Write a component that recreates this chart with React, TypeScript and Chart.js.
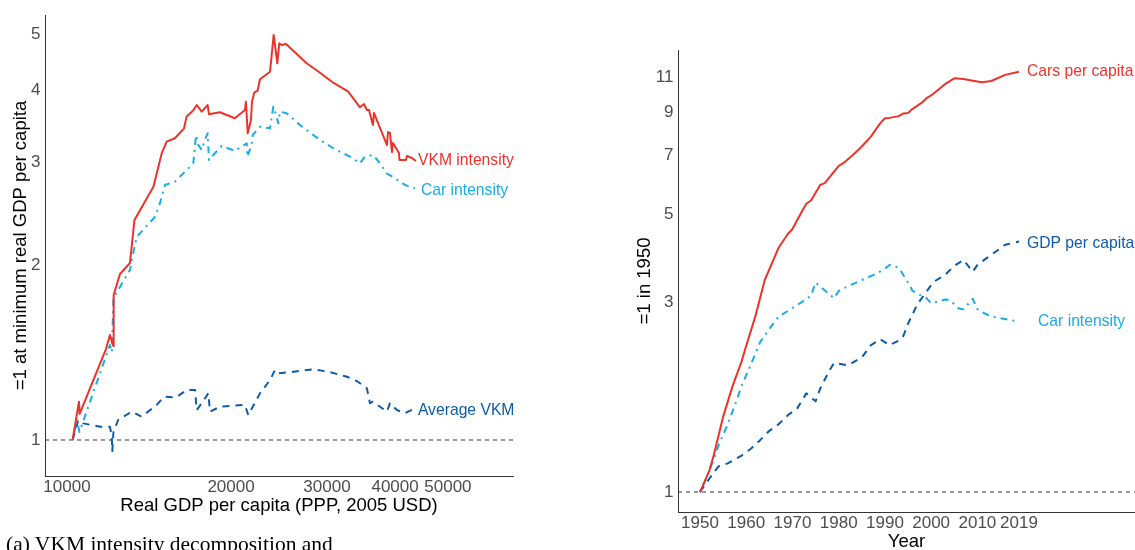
import React, { useEffect, useRef } from 'react';
import { Chart, registerables } from 'chart.js';

Chart.register(...registerables);

// ---------- Panel (a): indices against real GDP per capita ----------
const vkmGdp = [10240, 10520, 10550, 11790, 11990, 12160, 12180, 12510, 13050, 13300, 14410, 14920, 15240, 15780, 16400, 16580, 17050, 17300, 17670, 18120, 18220, 19090, 20330, 21210, 21300, 21460, 21760, 21850, 22060, 22380, 22600, 23580, 23950, 24320, 24520, 24770, 25230, 27530, 29120, 30800, 32820, 34480, 35070, 35510, 35820, 36430, 36580, 38650, 38820, 39150, 39480, 39640, 40660, 40750, 41880, 42060, 42950, 43690];
const vkmIntensity = [1.0, 1.164, 1.109, 1.434, 1.516, 1.451, 1.777, 1.931, 2.017, 2.392, 2.729, 3.114, 3.263, 3.307, 3.439, 3.603, 3.69, 3.772, 3.674, 3.772, 3.636, 3.665, 3.579, 3.698, 3.822, 3.373, 3.555, 3.822, 3.961, 3.993, 4.177, 4.304, 4.979, 4.45, 4.818, 4.785, 4.804, 4.45, 4.287, 4.121, 3.977, 3.738, 3.787, 3.698, 3.698, 3.484, 3.655, 3.219, 3.389, 3.376, 3.13, 3.245, 3.118, 3.033, 3.033, 3.082, 3.058, 3.021];

const carIntGdp = [10240, 10430, 10540, 11990, 12090, 12170, 12510, 13050, 13230, 13430, 13800, 14510, 14810, 15130, 15780, 16580, 17050, 17250, 17420, 17670, 17860, 18120, 18220, 18550, 19230, 20330, 21370, 21420, 21820, 21910, 22600, 23580, 23910, 24250, 24420, 24590, 25300, 26760, 29120, 30800, 33050, 34480, 35220, 36470, 37530, 38600, 39980, 41700, 43500];
const carIntensityByGdp = [1.0, 1.082, 1.032, 1.457, 1.417, 1.756, 1.834, 1.962, 2.097, 2.238, 2.299, 2.423, 2.556, 2.748, 2.784, 2.915, 2.994, 3.349, 3.219, 3.156, 3.263, 3.373, 3.033, 3.094, 3.207, 3.144, 3.241, 3.074, 3.219, 3.349, 3.461, 3.439, 3.747, 3.603, 3.509, 3.674, 3.651, 3.484, 3.284, 3.178, 3.074, 2.994, 3.074, 3.094, 2.994, 2.877, 2.821, 2.748, 2.712];

const avgVkmGdp = [10240, 10490, 10710, 11500, 11990, 12080, 12110, 12170, 12410, 13150, 13710, 14610, 15070, 15850, 16580, 17180, 17300, 17670, 18170, 18300, 19090, 20190, 21210, 21510, 22600, 23580, 24080, 24420, 25660, 26760, 28280, 30130, 32640, 34190, 35510, 35970, 36430, 37530, 38650, 39150, 40320, 41700, 43500];
const averageVkm = [1.0, 1.082, 1.068, 1.054, 1.054, 1.016, 0.957, 1.032, 1.082, 1.119, 1.097, 1.149, 1.187, 1.184, 1.219, 1.219, 1.126, 1.157, 1.203, 1.119, 1.141, 1.146, 1.149, 1.104, 1.203, 1.268, 1.32, 1.303, 1.308, 1.315, 1.323, 1.311, 1.285, 1.26, 1.227, 1.157, 1.164, 1.141, 1.119, 1.157, 1.126, 1.112, 1.134];

const gdpTicks = [10000, 20000, 30000, 40000, 50000];
const ratioTicksA = [1, 2, 3, 4, 5];

// ---------- Panel (b): indices over time, 1950 = 1 ----------
const carsYears = [1950, 1952, 1953, 1955, 1957, 1959, 1960, 1962, 1964, 1966, 1967, 1969, 1970, 1972, 1973, 1974, 1976, 1977, 1980, 1981, 1983, 1985, 1987, 1989, 1990, 1991, 1993, 1994, 1995, 1996, 1998, 1999, 2000, 2002, 2003, 2005, 2007, 2009, 2011, 2013, 2016, 2019];
const carsPerCapita = [1.0, 1.13, 1.24, 1.545, 1.84, 2.13, 2.33, 2.77, 3.41, 3.86, 4.11, 4.45, 4.58, 5.06, 5.3, 5.4, 5.91, 5.97, 6.6, 6.7, 7.02, 7.38, 7.83, 8.45, 8.69, 8.71, 8.8, 8.94, 8.96, 9.18, 9.51, 9.76, 9.92, 10.36, 10.59, 10.95, 10.91, 10.8, 10.7, 10.78, 11.17, 11.38];

const gdpYears = [1950, 1952, 1954, 1956, 1959, 1961, 1963, 1965, 1967, 1969, 1971, 1973, 1975, 1976, 1978, 1979, 1982, 1985, 1987, 1989, 1991, 1993, 1994, 1995, 1997, 1999, 2000, 2001, 2003, 2005, 2007, 2009, 2010, 2012, 2014, 2016, 2019];
const gdpPerCapita = [1.0, 1.08, 1.16, 1.18, 1.235, 1.285, 1.35, 1.425, 1.48, 1.56, 1.62, 1.77, 1.69, 1.82, 2.02, 2.11, 2.08, 2.18, 2.34, 2.42, 2.34, 2.4, 2.47, 2.65, 2.96, 3.19, 3.31, 3.4, 3.51, 3.7, 3.83, 3.58, 3.72, 3.87, 4.02, 4.18, 4.26];

const carIntYears = [1950, 1951, 1953, 1954, 1956, 1958, 1959, 1961, 1963, 1965, 1967, 1969, 1972, 1974, 1975, 1979, 1980, 1982, 1986, 1988, 1990, 1991, 1993, 1995, 1996, 1998, 1999, 2000, 2003, 2004, 2006, 2007, 2009, 2010, 2011, 2013, 2016, 2019];
const carIntensityByYear = [1.0, 1.06, 1.21, 1.31, 1.48, 1.71, 1.85, 2.09, 2.38, 2.57, 2.76, 2.85, 3.0, 3.11, 3.36, 3.07, 3.2, 3.29, 3.45, 3.53, 3.64, 3.72, 3.66, 3.36, 3.2, 3.11, 3.07, 2.98, 3.045, 3.04, 2.89, 2.88, 3.06, 2.88, 2.83, 2.76, 2.72, 2.68];

const yearTicks = [1950, 1960, 1970, 1980, 1990, 2000, 2010, 2019];
const ratioTicksB = [1, 3, 5, 7, 9, 11];

// Axis ranges
const GDP_MIN = 9113;
const GDP_MAX = 65830;
const RATIO_A_MIN = 0.867;
const RATIO_A_MAX = 5.389;
const YEAR_MIN = 1945.24;
const YEAR_MAX = 2044.09;
const RATIO_B_MIN = 0.8909;
const RATIO_B_MAX = 12.9;

// Styles
const RED = '#EA3329';
const CYAN = '#19ACE6';
const NAVY = '#0D5BA8';
const FONT = '"Liberation Sans", Arial, sans-serif';
const TICK_FONT = { family: FONT, size: 17 };
const TITLE_FONT = { family: FONT, size: 18.5 };
const LABEL_SIZE = 15.7;

const pairs = (xs: number[], ys: number[]) => xs.map((x, i) => ({ x, y: ys[i] }));

type EndLabel = { dataset: number; text: string; color: string; dx: number; dy: number };

// Writes each series name just past the series' last point
function endLabels(labels: EndLabel[]) {
  return {
    id: 'endLabels',
    afterDatasetsDraw(chart: any) {
      const ctx = chart.ctx;
      ctx.save();
      ctx.font = `${LABEL_SIZE}px ${FONT}`;
      ctx.textAlign = 'left';
      ctx.textBaseline = 'middle';
      for (const l of labels) {
        const pts = chart.getDatasetMeta(l.dataset).data;
        const p = pts[pts.length - 1];
        ctx.fillStyle = l.color;
        ctx.fillText(l.text, p.x + l.dx, p.y + l.dy);
      }
      ctx.restore();
    },
  };
}

const border = { display: true, color: '#333333', width: 1 };

function xAxis(type: string, min: number, max: number, ticks: number[], height: number, title: string, titlePad: number) {
  return {
    type,
    min,
    max,
    bounds: 'data',
    afterBuildTicks: (s: any) => {
      s.ticks = ticks.map((value) => ({ value }));
    },
    afterFit: (s: any) => {
      s.height = height;
    },
    grid: { display: false, drawTicks: false },
    border,
    ticks: {
      autoSkip: false,
      maxRotation: 0,
      minRotation: 0,
      padding: 1.5,
      color: '#4D4D4D',
      font: TICK_FONT,
      callback: (v: number) => String(v),
    },
    title: { display: true, text: title, color: '#000000', font: TITLE_FONT, padding: { top: 0, bottom: titlePad } },
  };
}

function yAxis(min: number, max: number, ticks: number[], width: number, title: string, titlePad: number) {
  return {
    type: 'logarithmic',
    min,
    max,
    bounds: 'data',
    afterBuildTicks: (s: any) => {
      s.ticks = ticks.map((value) => ({ value }));
    },
    afterFit: (s: any) => {
      s.width = width;
    },
    grid: { display: false, drawTicks: false },
    border,
    ticks: {
      autoSkip: false,
      padding: 4.5,
      color: '#4D4D4D',
      font: TICK_FONT,
      callback: (v: number) => String(v),
    },
    title: { display: true, text: title, color: '#000000', font: TITLE_FONT, padding: { top: titlePad, bottom: 0 } },
  };
}

const solid = (data: any[], color: string) => ({ data, borderColor: color, borderWidth: 2 });
const dashed = (data: any[], color: string, dash: number[]) => ({ data, borderColor: color, borderWidth: 2, borderDash: dash });
const baseline = (x0: number, x1: number) => ({
  data: [{ x: x0, y: 1 }, { x: x1, y: 1 }],
  borderColor: '#333333',
  borderWidth: 1,
  borderDash: [4, 4],
});

const DOTDASH = [2, 5, 7, 5];
const DASH = [7, 6];

const common = {
  responsive: false,
  maintainAspectRatio: false,
  animation: false,
  elements: {
    point: { radius: 0, hoverRadius: 0 },
    line: { tension: 0, fill: false, borderJoinStyle: 'round' },
  },
  plugins: { legend: { display: false }, tooltip: { enabled: false } },
  events: [],
};

export default function App() {
  const refA = useRef<HTMLCanvasElement>(null);
  const refB = useRef<HTMLCanvasElement>(null);

  useEffect(() => {
    const chartA = new Chart(refA.current as HTMLCanvasElement, {
      type: 'line',
      data: {
        datasets: [
          solid(pairs(vkmGdp, vkmIntensity), RED),
          dashed(pairs(carIntGdp, carIntensityByGdp), CYAN, DOTDASH),
          dashed(pairs(avgVkmGdp, averageVkm), NAVY, DASH),
          baseline(GDP_MIN, GDP_MAX),
        ],
      },
      options: {
        ...common,
        layout: { padding: { top: 15, right: 27, left: 0, bottom: 0 } },
        scales: {
          x: xAxis('logarithmic', GDP_MIN, GDP_MAX, gdpTicks, 94, 'Real GDP per capita (PPP, 2005 USD)', 52.9),
          y: yAxis(RATIO_A_MIN, RATIO_A_MAX, ratioTicksA, 45, '=1 at minimum real GDP per capita', 9.8),
        },
      } as any,
      plugins: [
        endLabels([
          { dataset: 0, text: 'VKM intensity', color: RED, dx: 2, dy: 0 },
          { dataset: 1, text: 'Car intensity', color: CYAN, dx: 6, dy: 2 },
          { dataset: 2, text: 'Average VKM', color: NAVY, dx: 3, dy: 2 },
        ]),
      ],
    } as any);

    const chartB = new Chart(refB.current as HTMLCanvasElement, {
      type: 'line',
      data: {
        datasets: [
          solid(pairs(carsYears, carsPerCapita), RED),
          dashed(pairs(gdpYears, gdpPerCapita), NAVY, DASH),
          dashed(pairs(carIntYears, carIntensityByYear), CYAN, DOTDASH),
          baseline(YEAR_MIN, YEAR_MAX),
        ],
      },
      options: {
        ...common,
        layout: { padding: { top: 50, right: 0, left: 0, bottom: 0 } },
        scales: {
          x: xAxis('linear', YEAR_MIN, YEAR_MAX, yearTicks, 58, 'Year', 16.9),
          y: yAxis(RATIO_B_MIN, RATIO_B_MAX, ratioTicksB, 58, '=1 in 1950', 13.8),
        },
      } as any,
      plugins: [
        endLabels([
          { dataset: 0, text: 'Cars per capita', color: RED, dx: 8, dy: 0 },
          { dataset: 1, text: 'GDP per capita', color: NAVY, dx: 8, dy: 2 },
          { dataset: 2, text: 'Car intensity', color: CYAN, dx: 19, dy: 0 },
        ]),
      ],
    } as any);

    return () => {
      chartA.destroy();
      chartB.destroy();
    };
  }, []);

  return (
    <div
      style={{
        position: 'absolute',
        left: 0,
        top: 0,
        width: 1135,
        height: 550,
        overflow: 'hidden',
        background: '#ffffff',
      }}
    >
      <canvas ref={refA} width={540} height={570} style={{ position: 'absolute', left: 0, top: 0 }} />
      <canvas ref={refB} width={515} height={570} style={{ position: 'absolute', left: 620, top: 0 }} />
      <div
        style={{
          position: 'absolute',
          left: 6,
          top: 534,
          fontFamily: '"Liberation Serif", "Times New Roman", serif',
          fontSize: 21.5,
          lineHeight: '21.5px',
          whiteSpace: 'nowrap',
          color: '#000000',
        }}
      >
        (a) VKM intensity decomposition and
      </div>
    </div>
  );
}
